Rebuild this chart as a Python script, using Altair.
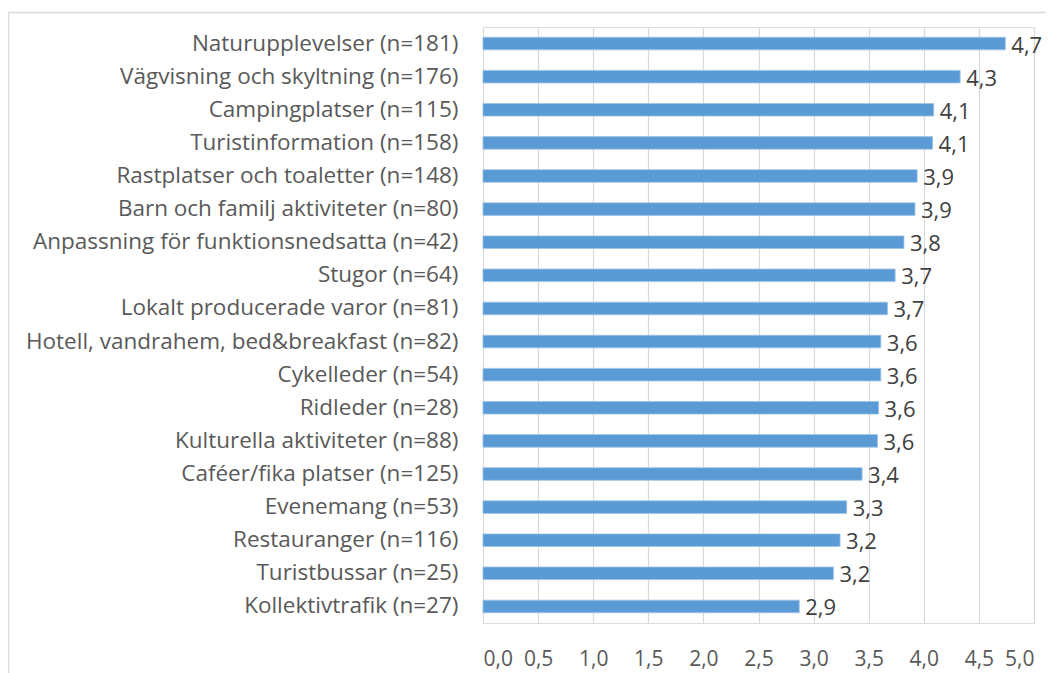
import altair as alt
import pandas as pd

categories = [
    "Naturupplevelser (n=181)",
    "Vägvisning och skyltning (n=176)",
    "Campingplatser (n=115)",
    "Turistinformation (n=158)",
    "Rastplatser och toaletter (n=148)",
    "Barn och familj aktiviteter (n=80)",
    "Anpassning för funktionsnedsatta (n=42)",
    "Stugor (n=64)",
    "Lokalt producerade varor (n=81)",
    "Hotell, vandrahem, bed&breakfast (n=82)",
    "Cykelleder (n=54)",
    "Ridleder (n=28)",
    "Kulturella aktiviteter (n=88)",
    "Caféer/fika platser (n=125)",
    "Evenemang (n=53)",
    "Restauranger (n=116)",
    "Turistbussar (n=25)",
    "Kollektivtrafik (n=27)",
]
values = [4.74, 4.33, 4.09, 4.08, 3.94, 3.92, 3.82, 3.74, 3.67, 3.61,
          3.61, 3.59, 3.58, 3.44, 3.30, 3.24, 3.18, 2.87]
x_ticks = [0, 0.5, 1, 1.5, 2, 2.5, 3, 3.5, 4, 4.5, 5]

df = pd.DataFrame({"kategori": categories, "varde": values})

FONT = "Open Sans"
BLUE = "#5B9BD5"

base = alt.Chart(df).encode(
    y=alt.Y("kategori:N", sort=categories, title=None,
            scale=alt.Scale(paddingInner=0.62, paddingOuter=0.31),
            axis=alt.Axis(ticks=False, domain=False, labelPadding=25,
                          labelFontSize=22.5, labelColor="#595959",
                          labelFont=FONT, labelLimit=500)),
    x=alt.X("varde:Q", title=None,
            scale=alt.Scale(domain=[0, 5], nice=False),
            axis=alt.Axis(values=x_ticks, ticks=False, domain=False,
                          labelExpr="replace(format(datum.value, '.1f'), '.', ',')",
                          labelPadding=25, labelFontSize=21,
                          labelColor="#595959", labelFont=FONT,
                          grid=True, gridColor="#D9D9D9", gridWidth=1.2)),
)

bars = base.mark_bar(color=BLUE, stroke="#9DC3E6", strokeWidth=0.8)

labels = base.transform_calculate(
    lbl="replace(format(datum.varde, '.1f'), '.', ',')"
).mark_text(align="left", baseline="middle", dx=6, dy=2, fontSize=22,
            font=FONT, color="#404040").encode(text="lbl:N")

frame = alt.Chart(pd.DataFrame({"f": [0]})).mark_rect(
    fill=None, stroke="#D9D9D9", strokeWidth=1.5
).encode(x=alt.value(-474.5), x2=alt.value(800),
         y=alt.value(-14.5), y2=alt.value(900))

chart = alt.layer(frame, bars, labels).properties(
    width=551, height=596,
    padding={"left": 475, "top": 19, "right": 12, "bottom": 50},
    autosize=alt.AutoSizeParams(type="none"),
).configure_view(stroke=None).configure(background="white")

chart.save("out.html", embed_options={"renderer": "svg", "actions": False})
